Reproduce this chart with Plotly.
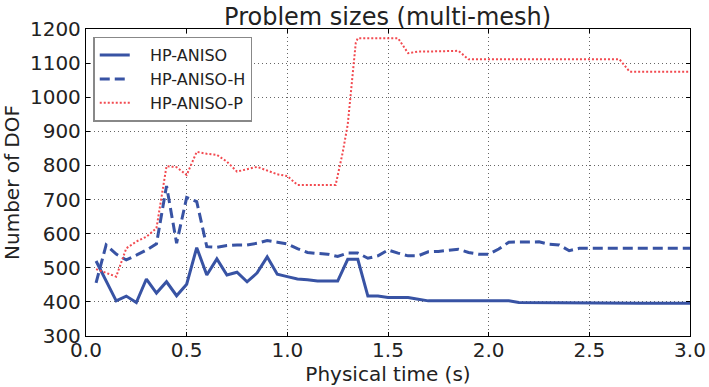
import plotly.graph_objects as go

# HP-ANISO
t_aniso = [0.05, 0.10, 0.15, 0.20, 0.25, 0.30, 0.35, 0.40, 0.45, 0.50, 0.55, 0.60, 0.65, 0.70,
           0.75, 0.80, 0.85, 0.90, 0.95, 1.00, 1.05, 1.10, 1.15, 1.20, 1.25, 1.30, 1.35, 1.40,
           1.45, 1.50, 1.55, 1.60, 1.65, 1.70, 1.80, 1.90, 2.00, 2.10, 2.15, 2.30, 2.50, 2.75, 3.00]
v_aniso = [520, 462, 403, 417, 398, 467, 426, 459, 418, 452, 559, 479, 526, 479,
           487, 459, 485, 532, 481, 474, 467, 465, 461, 461, 461, 525, 525, 417,
           417, 413, 413, 413, 408, 403, 403, 403, 403, 403, 398, 397, 396, 396, 396]

# HP-ANISO-H
t_h = [0.05, 0.10, 0.15, 0.20, 0.25, 0.30, 0.35, 0.40, 0.45, 0.50, 0.55, 0.60, 0.65, 0.70,
       0.75, 0.80, 0.85, 0.90, 0.95, 1.00, 1.05, 1.10, 1.15, 1.20, 1.25, 1.30, 1.35, 1.40,
       1.45, 1.50, 1.55, 1.60, 1.65, 1.70, 1.75, 1.80, 1.85, 1.90, 1.95, 2.00, 2.05, 2.10,
       2.15, 2.20, 2.25, 2.30, 2.35, 2.40, 2.45, 2.60, 2.80, 3.00]
v_h = [456, 567, 540, 523, 537, 552, 570, 740, 572, 706, 694, 562, 560, 565,
       567, 567, 572, 580, 575, 570, 556, 545, 542, 540, 533, 543, 543, 528,
       535, 552, 543, 535, 535, 547, 548, 550, 554, 545, 540, 540, 555, 575,
       576, 576, 576, 569, 567, 550, 557, 557, 557, 557]

# HP-ANISO-P
t_p = [0.05, 0.10, 0.15, 0.20, 0.25, 0.30, 0.35, 0.40, 0.45, 0.50, 0.55, 0.60, 0.65, 0.70,
       0.75, 0.80, 0.85, 0.90, 0.95, 1.00, 1.05, 1.10, 1.15, 1.20, 1.24, 1.25, 1.275, 1.30,
       1.325, 1.34, 1.35, 1.40, 1.45, 1.50, 1.55, 1.60, 1.65, 1.70, 1.75, 1.80, 1.85, 1.90,
       2.00, 2.20, 2.40, 2.60, 2.65, 2.70, 2.80, 2.90, 3.00]
v_p = [496, 485, 474, 557, 577, 591, 616, 798, 795, 772, 840, 834, 831, 811,
       782, 789, 796, 785, 774, 769, 743, 743, 743, 743, 743, 770, 838, 920,
       1070, 1160, 1173, 1173, 1173, 1173, 1173, 1129, 1134, 1134, 1135, 1136, 1136, 1111,
       1111, 1111, 1111, 1111, 1111, 1075, 1075, 1075, 1075]

x_ticks = [0.0, 0.5, 1.0, 1.5, 2.0, 2.5, 3.0]
y_ticks = [300, 400, 500, 600, 700, 800, 900, 1000, 1100, 1200]

BLUE = "#3853a4"
RED = "#f24a50"
FONT = "DejaVu Sans"
TXT = "#222222"
PAD = "\u00a0\u00a0\u00a0"

fig = go.Figure()
fig.add_trace(go.Scatter(x=t_aniso, y=v_aniso, mode="lines", name=PAD + "HP-ANISO",
                         line=dict(color=BLUE, width=3)))
fig.add_trace(go.Scatter(x=t_h, y=v_h, mode="lines", name=PAD + "HP-ANISO-H",
                         line=dict(color=BLUE, width=3, dash="10px,5px")))
fig.add_trace(go.Scatter(x=t_p, y=v_p, mode="lines", name=PAD + "HP-ANISO-P",
                         line=dict(color=RED, width=2, dash="2px,2px")))

axis_common = dict(
    showline=True, linecolor="black", linewidth=1.3, mirror="allticks",
    ticks="inside", ticklen=4, tickcolor="black", tickwidth=1,
    showgrid=True, gridcolor="#666666", griddash="1px,3px", gridwidth=1,
    zeroline=False, automargin=False,
    tickfont=dict(family=FONT, size=20, color=TXT),
)

fig.update_xaxes(range=[0, 3], tickvals=x_ticks, ticktext=[f"{v:.1f}" for v in x_ticks],
                 ticklabelstandoff=-4,
                 title=dict(text="Physical time (s)", font=dict(family=FONT, size=20, color=TXT),
                            standoff=2),
                 **axis_common)
fig.update_yaxes(range=[300, 1200], tickvals=y_ticks, ticktext=[str(v) for v in y_ticks],
                 title=dict(text="Number of DOF", font=dict(family=FONT, size=20, color=TXT),
                            standoff=6),
                 **axis_common)

fig.update_layout(
    width=709, height=387,
    margin=dict(l=86, r=19, t=29, b=51),
    paper_bgcolor="white", plot_bgcolor="white",
    title=dict(text="Problem sizes (multi-mesh)", x=0.5467, xanchor="center",
               yref="container", y=0.958, yanchor="middle",
               font=dict(family=FONT, size=24, color=TXT)),
    legend=dict(x=0.012, y=0.975, xanchor="left", yanchor="top",
                bgcolor="white", bordercolor="#888888", borderwidth=1.5,
                font=dict(family=FONT, size=16, color=TXT),
                tracegroupgap=0),
    showlegend=True,
)

fig.write_html("out.html")
